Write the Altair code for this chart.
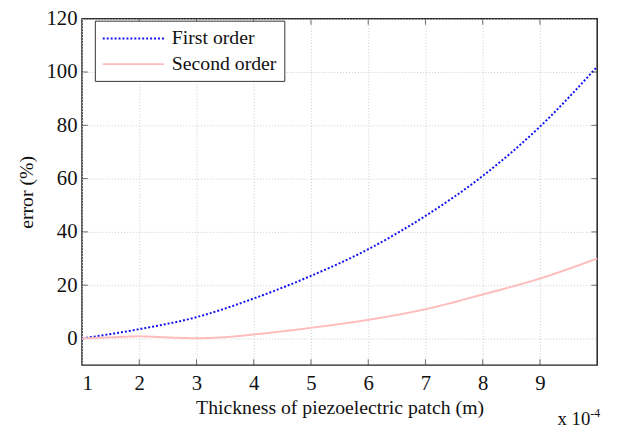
import altair as alt
import pandas as pd

x_first = [1, 2, 3, 4, 5, 6, 7, 8, 9, 10]
first_order = [0, 3.5, 8, 15, 23.5, 33.5, 46, 61, 79.5, 102]
x_second = [1, 1.5, 2, 2.5, 3, 3.5, 4, 5, 6, 7, 8, 9, 10]
second_order = [0, 0.4, 0.8, 0.4, 0.1, 0.5, 1.5, 4, 7, 11, 16.5, 22.5, 30]
series_names = ["First order", "Second order"]
x_ticks = [1, 2, 3, 4, 5, 6, 7, 8, 9]
y_ticks = [0, 20, 40, 60, 80, 100, 120]

rows = [{"x": a, "y": b, "s": series_names[0]} for a, b in zip(x_first, first_order)]
rows += [{"x": a, "y": b, "s": series_names[1]} for a, b in zip(x_second, second_order)]
df = pd.DataFrame(rows)

FONT = "Liberation Serif"
W, H = 522, 351

xs = alt.Scale(domain=[1, 10], nice=False, zero=False)
ys = alt.Scale(domain=[-10, 120], nice=False, zero=False)

lines = alt.Chart(df).mark_line(strokeWidth=2, interpolate="monotone").encode(
    x=alt.X("x:Q", scale=xs, title="Thickness of piezoelectric patch (m)",
            axis=alt.Axis(values=x_ticks, grid=True, gridDash=[1, 2], gridColor="#cccccc",
                          tickSize=0, labelPadding=8, titlePadding=4, format="d")),
    y=alt.Y("y:Q", scale=ys, title="error (%)",
            axis=alt.Axis(values=y_ticks, grid=True, gridDash=[1, 2], gridColor="#cccccc",
                          tickSize=0, labelPadding=5, titlePadding=10)),
    color=alt.Color("s:N", scale=alt.Scale(domain=series_names, range=["#1010f0", "#ffbcbc"]),
                    title=None,
                    legend=alt.Legend(orient="none", legendX=13, legendY=2,
                                      symbolType="M-1,0L5.2,0", symbolSize=400, symbolStrokeWidth=2,
                                      labelFontSize=20, labelFont=FONT, labelColor="#111111",
                                      strokeColor="#333333", fillColor="white",
                                      padding=7, rowPadding=5, labelOffset=49)),
    strokeDash=alt.StrokeDash("s:N", scale=alt.Scale(domain=series_names, range=[[2, 2], [1, 0]]),
                              legend=None),
)

tick_df_x = pd.DataFrame({"v": x_ticks[1:]})
tick_df_y = pd.DataFrame({"v": y_ticks[1:-1]})

tx_bottom = alt.Chart(tick_df_x).mark_tick(orient="vertical", size=6, thickness=1, color="#333",
                                           yOffset=-3).encode(x=alt.X("v:Q", scale=xs), y=alt.datum(-10))
tx_top = alt.Chart(tick_df_x).mark_tick(orient="vertical", size=6, thickness=1, color="#333",
                                        yOffset=3).encode(x=alt.X("v:Q", scale=xs), y=alt.datum(120))
ty_left = alt.Chart(tick_df_y).mark_tick(orient="horizontal", size=6, thickness=1, color="#333",
                                         xOffset=3).encode(y=alt.Y("v:Q", scale=ys), x=alt.datum(1))
ty_right = alt.Chart(tick_df_y).mark_tick(orient="horizontal", size=6, thickness=1, color="#333",
                                          xOffset=-3).encode(y=alt.Y("v:Q", scale=ys), x=alt.datum(10))

exp_base = alt.Chart(pd.DataFrame({"t": ["x 10"]})).mark_text(
    font=FONT, fontSize=19, align="right", baseline="alphabetic", dy=61, dx=-7, color="#111"
).encode(x=alt.datum(10), y=alt.datum(-10), text="t:N")
exp_sup = alt.Chart(pd.DataFrame({"t": ["-4"]})).mark_text(
    font=FONT, fontSize=12, align="left", baseline="alphabetic", dy=53, dx=-7, color="#111"
).encode(x=alt.datum(10), y=alt.datum(-10), text="t:N")

chart = alt.layer(lines, tx_bottom, tx_top, ty_left, ty_right, exp_base, exp_sup).properties(
    width=W, height=H,
    background="white",
    autosize=alt.AutoSizeParams(type="none"),
    padding={"left": 75, "top": 8, "right": 14, "bottom": 72},
).configure_view(stroke="#222222", strokeWidth=1.5).configure_axis(
    labelFont=FONT, titleFont=FONT, labelFontSize=21, titleFontSize=20,
    labelColor="#111111", titleColor="#111111", titleFontWeight="normal",
    domain=False,
)

chart.save("out.html", embed_options={"renderer": "svg", "actions": False})
